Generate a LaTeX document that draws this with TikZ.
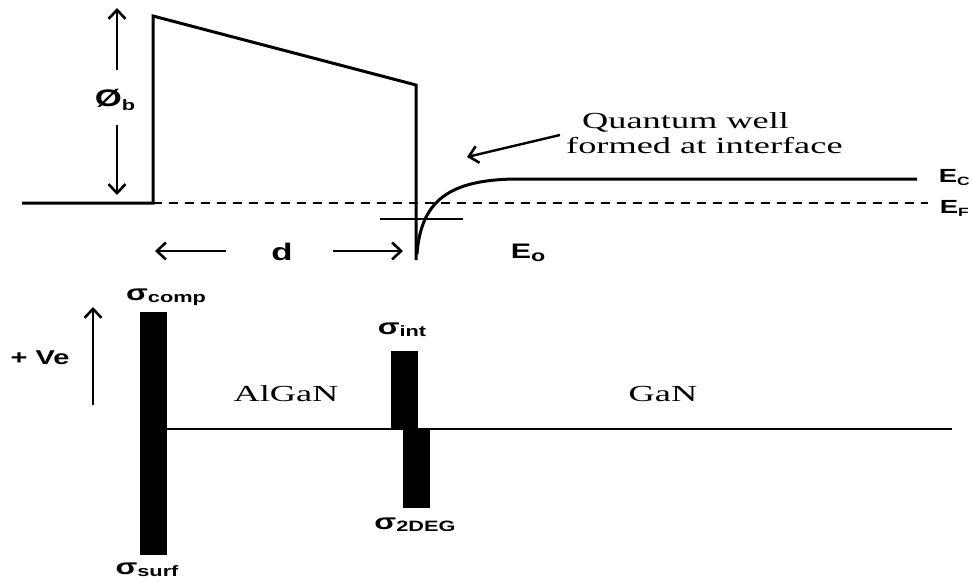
\documentclass[tikz,border=0pt]{standalone}
\usepackage{fontspec}
\setmainfont{Liberation Serif}[FakeStretch=1.58]
\newfontfamily\lab{Liberation Sans}[FakeStretch=1.45]
\usetikzlibrary{arrows.meta}
\newcommand\sbx[3]{\raisebox{-#2pt}{\fontsize{#1}{#1}\selectfont #3}}
\tikzset{
  band/.style={line width=3pt},
  thinlvl/.style={line width=1.5pt},
  arr/.style={line width=2.6pt, -{Straight Barb[length=9pt,width=17pt,line width=2.6pt]}},
  chargebar/.style={fill=black, draw=none},
  lbl/.style={inner sep=0pt, font=\lab\bfseries},
  txt/.style={inner sep=0pt, font=\fontsize{23}{24}\selectfont},
}
\begin{document}
\begin{tikzpicture}[x=1pt,y=-1pt]
\useasboundingbox (0,0) rectangle (972,583);
% ---------------- band diagram ----------------
\coordinate (l0) at (22,203);
\coordinate (b0) at (153,203);
\coordinate (b1) at (153,16);
\coordinate (b2) at (416,85);
\coordinate (b3) at (416,260);
\coordinate (w0) at (417,254);
\coordinate (w1) at (515,179);
\coordinate (ec) at (917,179);
\coordinate (ef0) at (153,203);
\coordinate (ef1) at (928,203);
\coordinate (e0a) at (380,219);
\coordinate (e0b) at (463,219);
\draw[band, line join=miter] (l0) -- (b0) -- (b1) -- (b2) -- (b3);
\draw[band] (w0) .. controls (421,200) and (450,180) .. (w1) -- (ec);
\draw[band, line width=2.4pt, dash pattern=on 9pt off 7pt] (ef0) -- (ef1);
\draw[thinlvl] (e0a) -- (e0b);

% phi_b
\node[lbl] (phib) at (115,100) {\fontsize{24}{24}\selectfont Ø\sbx{15}{3.5}{b}};
\coordinate (pt) at (117,8);
\coordinate (pta) at (117,70);
\coordinate (pb) at (117,195);
\coordinate (pba) at (117,125);
\draw[arr] (pta) -- (pt);
\draw[arr] (pba) -- (pb);

% d
\node[lbl] (d) at (282,252) {\fontsize{24}{24}\selectfont d};
\coordinate (dl0) at (226,251);
\coordinate (dl1) at (155,251);
\coordinate (dr0) at (333,251);
\coordinate (dr1) at (403,251);
\draw[arr, line width=2pt] (dl0) -- (dl1);
\draw[arr, line width=2pt] (dr0) -- (dr1);

% E labels
\node[lbl, anchor=east] (EC) at (970,178) {\fontsize{19}{19}\selectfont E\sbx{12}{3}{C}};
\node[lbl, anchor=east] (EF) at (969,208) {\fontsize{19}{19}\selectfont E\sbx{12}{3}{F}};
\node[lbl] (E0) at (528,253) {\fontsize{21}{21}\selectfont E\sbx{16}{3}{o}};

% quantum well annotation
\node[txt, anchor=west] (qw1) at (582,122) {Quantum well};
\node[txt, anchor=west] (qw2) at (566,146) {formed at interface};
\coordinate (qa0) at (560,135);
\coordinate (qa1) at (467,157);
\draw[arr, line width=2.4pt] (qa0) -- (qa1);

% ---------------- charge diagram ----------------
\coordinate (base0) at (167,429);
\coordinate (base1) at (952,429);
\draw[line width=2.4pt] (base0) -- (base1);
\fill[chargebar] (140,312) rectangle (167,555);
\fill[chargebar] (391,351) rectangle (418,429.5);
\fill[chargebar] (403,428.5) rectangle (430,508);

\node[lbl] (scomp) at (166,297) {\fontsize{22}{22}\selectfont σ\sbx{15}{2.5}{comp}};
\node[lbl] (ssurf) at (147,570) {\fontsize{22}{22}\selectfont σ\sbx{15}{2.5}{surf}};
\node[lbl] (sint) at (402,330) {\fontsize{22}{22}\selectfont σ\sbx{15}{2.5}{int}};
\node[lbl] (s2deg) at (415,525) {\fontsize{22}{22}\selectfont σ\sbx{15}{2.5}{2DEG}};

\node[lbl] (ve) at (40,358) {\fontsize{20}{20}\selectfont + Ve};
\coordinate (va0) at (93,405);
\coordinate (va1) at (93,307);
\draw[arr] (va0) -- (va1);

\node[txt] (algan) at (286,394) {AlGaN};
\node[txt] (gan) at (663,394) {GaN};
\end{tikzpicture}
\end{document}
